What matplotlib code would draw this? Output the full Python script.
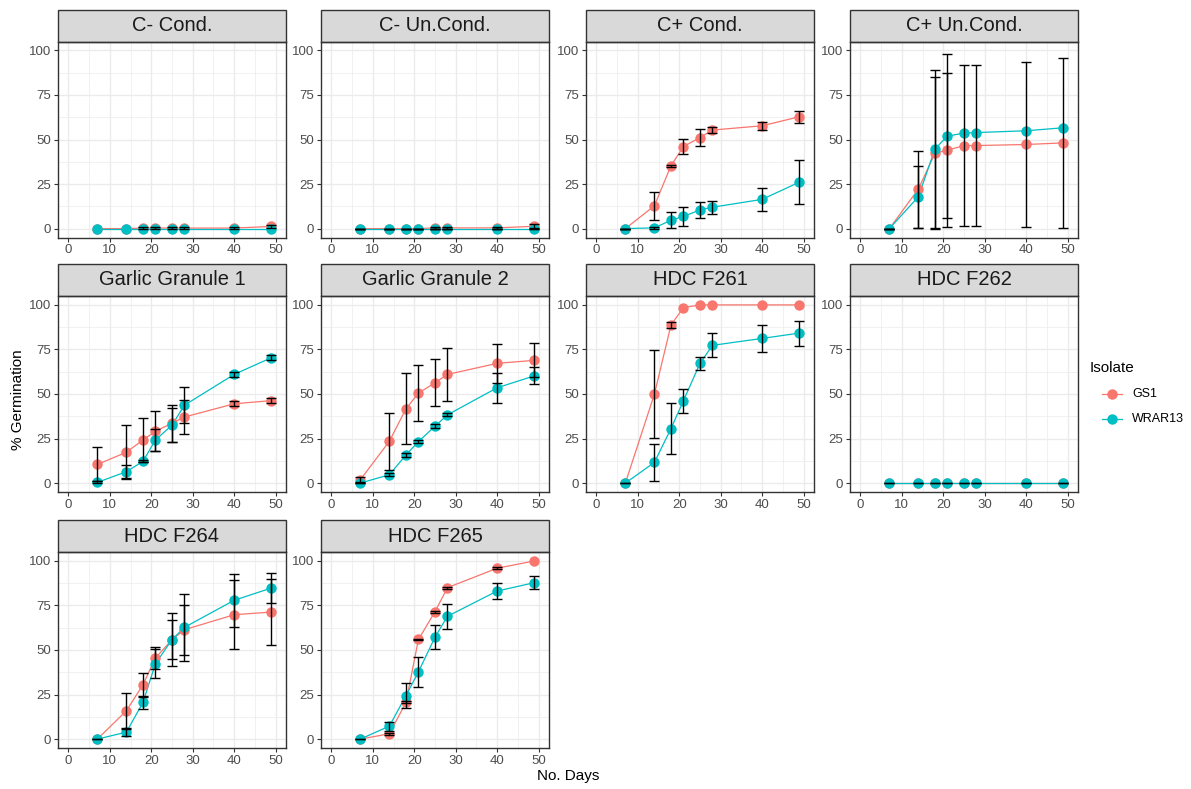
import numpy as np
import matplotlib.pyplot as plt
from matplotlib.patches import Rectangle
from matplotlib.lines import Line2D

plt.rcParams['font.family'] = ['Liberation Sans', 'DejaVu Sans']

nan = np.nan

days = [7, 14, 18, 21, 25, 28, 40, 49]
panels = ["C- Cond.", "C- Un.Cond.", "C+ Cond.", "C+ Un.Cond.",
          "Garlic Granule 1", "Garlic Granule 2", "HDC F261", "HDC F262",
          "HDC F264", "HDC F265"]
isolates = ["GS1", "WRAR13"]
colors = ["#F8766D", "#00BFC4"]

# mean % germination per panel (rows follow `panels`)
gs1_mean = [
    [0, 0, 0.3, 0.3, 0.3, 0.3, 0.3, 1.2],
    [0, 0, 0, 0, 0.4, 0.4, 0.4, 1.3],
    [0, 12.8, 35.3, 46.0, 51.1, 55.3, 57.7, 62.8],
    [0, 22.2, 42.3, 44.0, 46.6, 46.6, 47.2, 48.1],
    [10.5, 17.3, 24.2, 29.1, 33.6, 37.1, 44.5, 46.3],
    [1.9, 23.5, 41.7, 50.5, 56.3, 61.0, 67.2, 68.9],
    [0, 49.9, 88.7, 98.5, 100, 100, 100, 100],
    [0, 0, 0, 0, 0, 0, 0, 0],
    [0, 15.9, 30.5, 45.5, 55.8, 61.4, 69.8, 71.3],
    [0, 3.0, 20.6, 55.9, 71.5, 85.0, 95.9, 100],
]
gs1_se = [
    [nan, nan, 0.5, 0.5, 0.5, 0.5, 0.5, 1.0],
    [0, 0, 0, 0, 0.5, 0.5, 0.5, 1.0],
    [0, 7.8, 0.5, 4.2, 4.6, 1.5, 2.3, 3.3],
    [0, 21.6, 42.5, 43.2, 45.3, 45.3, 46.2, 47.5],
    [9.6, 15.2, 12.4, 11.1, 10.5, 9.3, 1.5, 1.5],
    [1.5, 16.0, 19.9, 15.5, 13.1, 14.7, 11.0, 9.5],
    [nan, 24.8, 1.7, nan, nan, nan, nan, nan],
    [nan, nan, nan, nan, nan, nan, nan, nan],
    [nan, 9.8, 6.7, 6.0, 11.0, 14.0, 19.5, 18.5],
    [nan, 0.5, 0.5, 0.5, 0.5, 0.5, 0.5, nan],
]
wrar_mean = [
    [0, 0, 0, 0, 0, 0, 0, 0],
    [0, 0, 0, 0, 0, 0, 0, 0],
    [0, 0.4, 4.7, 6.8, 10.5, 12.0, 16.4, 26.1],
    [0, 17.9, 44.7, 51.9, 53.6, 53.9, 54.9, 56.6],
    [0.4, 6.4, 12.2, 24.2, 32.5, 43.7, 61.0, 70.4],
    [0, 4.7, 15.8, 23.3, 31.9, 38.3, 53.5, 60.2],
    [0, 11.6, 30.6, 46.2, 67.2, 77.3, 81.2, 84.2],
    [0, 0, 0, 0, 0, 0, 0, 0],
    [0, 3.9, 20.6, 42.3, 55.8, 62.7, 77.9, 84.8],
    [0, 7.3, 24.4, 37.7, 57.2, 68.9, 83.1, 87.8],
]
wrar_se = [
    [nan, nan, nan, nan, nan, nan, nan, nan],
    [0, 0, 0, 0, 0, 0, 0, 0],
    [0, 0.5, 4.4, 5.2, 4.6, 3.6, 6.6, 12.4],
    [0, 17.3, 44.2, 46.0, nan, nan, nan, nan],
    [0.5, 3.5, 0.5, 6.0, 9.5, 10.0, 1.5, 1.5],
    [0, 0.8, 1.2, 1.0, 1.0, 0.8, 8.5, 4.7],
    [0, 10.5, 14.2, 6.8, 3.5, 6.7, 7.4, 7.0],
    [0, 0, 0, 0, 0, 0, 0, 0],
    [0, 1.9, 3.8, 8.2, 15.0, 19.0, 15.0, 8.5],
    [0, 2.5, 7.0, 8.2, 6.6, 7.0, 4.5, 3.6],
]

W, H = 1191, 789
fig = plt.figure(figsize=(W / 100, H / 100), dpi=100)

col_left = [58, 321, 586, 850]
strip_top = [9.5, 264, 520]
pw, ph, sh = 228, 196, 32

for i, name in enumerate(panels):
    r, c = divmod(i, 4)
    bottom = strip_top[r] + sh + ph
    ax = fig.add_axes([col_left[c] / W, 1 - bottom / H, pw / W, ph / H])

    ax.set_xlim(-2.5, 52.5)
    ax.set_ylim(-5, 105)
    ax.set_xticks([0, 10, 20, 30, 40, 50])
    ax.set_xticks([5, 15, 25, 35, 45], minor=True)
    ax.set_yticks([0, 25, 50, 75, 100])
    ax.set_yticks([12.5, 37.5, 62.5, 87.5], minor=True)
    ax.grid(which="major", color="#EBEBEB", lw=1.0)
    ax.grid(which="minor", color="#EBEBEB", lw=0.5)
    ax.set_axisbelow(True)
    ax.tick_params(which="major", length=3, width=0.8, color="#333333",
                   labelcolor="#4D4D4D", labelsize=9.5, pad=2)
    ax.tick_params(which="minor", length=0)
    for sp in ax.spines.values():
        sp.set_color("#333333")
        sp.set_linewidth(1.0)

    means = [gs1_mean[i], wrar_mean[i]]
    errs = [gs1_se[i], wrar_se[i]]
    for m, col in zip(means, colors):
        ax.plot(days, m, color=col, lw=0.9, zorder=2)
    for m, col in zip(means, colors):
        ax.plot(days, m, "o", color=col, ms=7.5, mew=0, zorder=3)
    for m, e in zip(means, errs):
        m = np.array(m, float)
        e = np.array(e, float)
        ok = ~np.isnan(e)
        if ok.any():
            ax.errorbar(np.array(days)[ok], m[ok], yerr=e[ok], fmt="none",
                        ecolor="black", elinewidth=1.0, capsize=3.8,
                        capthick=1.0, zorder=4)

    # facet strip
    ax.add_patch(Rectangle((0, 1), 1, sh / ph, transform=ax.transAxes,
                           facecolor="#D9D9D9", edgecolor="#333333",
                           lw=1.0, clip_on=False))
    ax.text(0.5, 1 + sh / ph / 2, name, transform=ax.transAxes,
            ha="center", va="center", fontsize=14.5, color="#1A1A1A")

fig.text(568 / W, 1 - 776 / H, "No. Days", ha="center", va="center",
         fontsize=11)
fig.text(18 / W, 1 - 400 / H, "% Germination", ha="center", va="center",
         rotation=90, fontsize=11)

# legend
fig.text(1090 / W, 1 - 368 / H, "Isolate", ha="left", va="center",
         fontsize=11)
for k, (lab, col) in enumerate(zip(isolates, colors)):
    y = 1 - (394 + 25 * k) / H
    fig.add_artist(Line2D([1102 / W, 1122 / W], [y, y], color=col, lw=0.9,
                          transform=fig.transFigure))
    fig.add_artist(Line2D([1112 / W], [y], marker="o", color=col, ms=7.5,
                          mew=0, transform=fig.transFigure))
    fig.text(1132 / W, y, lab, ha="left", va="center", fontsize=9)

fig.savefig("out.png", dpi=100)
